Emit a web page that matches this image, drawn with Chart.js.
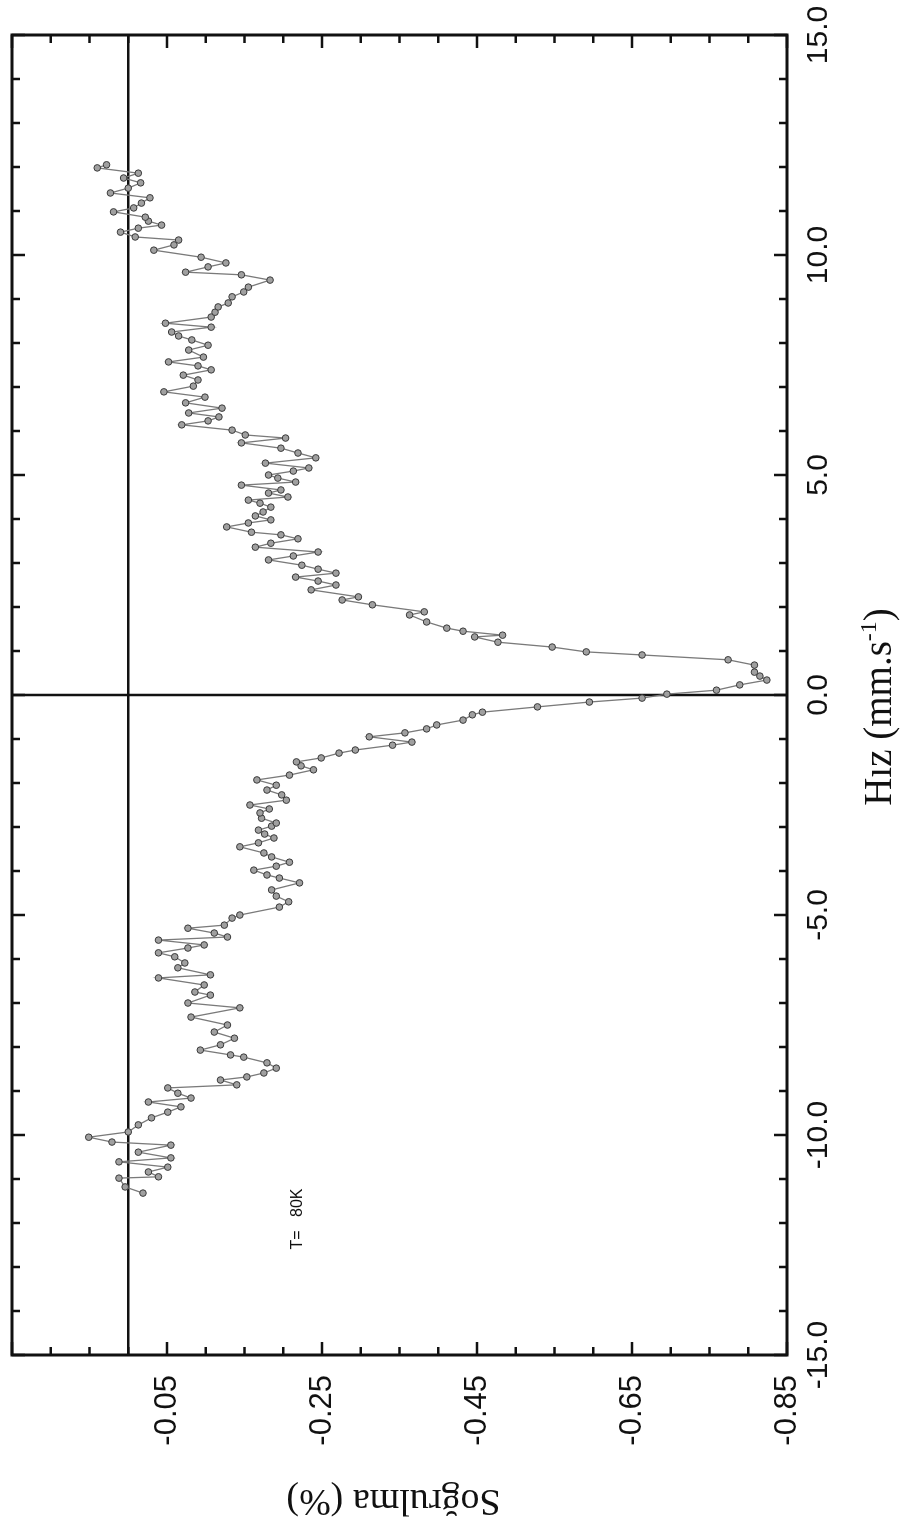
<!DOCTYPE html>
<html>
<head>
<meta charset="utf-8">
<script src="https://cdn.jsdelivr.net/npm/chart.js@4.4.1/dist/chart.umd.min.js"></script>
<style>
  html, body { margin: 0; padding: 0; background: #fff; overflow: hidden; }
  #page { width: 914px; height: 1537px; position: relative; }
  /* chart is drawn landscape and turned a quarter to the left */
  #wrap {
    position: absolute; left: 0; top: 0;
    width: 1537px; height: 914px;
    transform-origin: 0 0;
    transform: translateY(1537px) rotate(-90deg);
  }
</style>
</head>
<body>
<div id="page">
  <div id="wrap"><canvas id="spectrum" width="1537" height="914"></canvas></div>
</div>
<script>
// velocity (mm/s) and absorption (%)
const velocity = [
  -11.32, -11.18, -10.98, -10.95, -10.84, -10.73, -10.61, -10.52, -10.39, -10.23,
  -10.16, -10.05, -9.93, -9.77, -9.61, -9.48, -9.36, -9.25, -9.16, -9.05,
  -8.93, -8.86, -8.75, -8.68, -8.59, -8.48, -8.36, -8.23, -8.18, -8.07,
  -7.95, -7.80, -7.66, -7.50, -7.32, -7.11, -7.00, -6.82, -6.75, -6.59,
  -6.43, -6.36, -6.20, -6.09, -5.95, -5.86, -5.75, -5.68, -5.57, -5.50,
  -5.41, -5.30, -5.23, -5.07, -5.00, -4.82, -4.70, -4.57, -4.43, -4.27,
  -4.16, -4.09, -3.98, -3.89, -3.80, -3.68, -3.59, -3.45, -3.36, -3.25,
  -3.16, -3.07, -2.98, -2.91, -2.80, -2.68, -2.59, -2.50, -2.39, -2.27,
  -2.16, -2.05, -1.93, -1.82, -1.70, -1.61, -1.52, -1.43, -1.32, -1.25,
  -1.14, -1.07, -0.95, -0.86, -0.77, -0.68, -0.57, -0.45, -0.39, -0.27,
  -0.16, -0.07, 0.02, 0.11, 0.23, 0.34, 0.43, 0.52, 0.68, 0.80,
  0.91, 0.98, 1.09, 1.20, 1.32, 1.36, 1.45, 1.52, 1.66, 1.82,
  1.89, 2.05, 2.16, 2.23, 2.39, 2.50, 2.59, 2.68, 2.77, 2.86,
  2.95, 3.07, 3.16, 3.25, 3.36, 3.45, 3.55, 3.64, 3.70, 3.82,
  3.91, 3.98, 4.07, 4.16, 4.27, 4.36, 4.43, 4.50, 4.59, 4.66,
  4.77, 4.84, 4.93, 5.00, 5.09, 5.16, 5.27, 5.39, 5.50, 5.61,
  5.73, 5.84, 5.91, 6.02, 6.14, 6.23, 6.32, 6.41, 6.52, 6.64,
  6.77, 6.89, 7.02, 7.16, 7.27, 7.39, 7.48, 7.57, 7.68, 7.84,
  7.95, 8.07, 8.16, 8.25, 8.36, 8.45, 8.59, 8.70, 8.82, 8.91,
  9.05, 9.16, 9.27, 9.43, 9.55, 9.61, 9.73, 9.82, 9.95, 10.11,
  10.23, 10.34, 10.41, 10.52, 10.61, 10.68, 10.77, 10.86, 10.98, 11.07,
  11.18, 11.30, 11.41, 11.52, 11.64, 11.75, 11.86, 11.98, 12.05
];
const absorption = [
  -0.019, 0.004, 0.012, -0.039, -0.026, -0.051, 0.012, -0.055, -0.013, -0.055,
  0.021, 0.051, 0.000, -0.013, -0.030, -0.051, -0.068, -0.026, -0.081, -0.064,
  -0.051, -0.140, -0.119, -0.153, -0.175, -0.191, -0.179, -0.149, -0.132, -0.093,
  -0.119, -0.137, -0.111, -0.128, -0.081, -0.144, -0.077, -0.106, -0.086, -0.098,
  -0.039, -0.106, -0.064, -0.073, -0.060, -0.039, -0.077, -0.098, -0.039, -0.128,
  -0.111, -0.077, -0.124, -0.134, -0.144, -0.195, -0.207, -0.191, -0.185, -0.221,
  -0.195, -0.179, -0.162, -0.191, -0.208, -0.185, -0.175, -0.144, -0.168, -0.188,
  -0.176, -0.168, -0.185, -0.191, -0.172, -0.170, -0.182, -0.157, -0.204, -0.198,
  -0.179, -0.191, -0.166, -0.208, -0.239, -0.223, -0.217, -0.249, -0.272, -0.293,
  -0.341, -0.366, -0.311, -0.357, -0.385, -0.398, -0.432, -0.444, -0.457, -0.528,
  -0.595, -0.663, -0.695, -0.759, -0.789, -0.824, -0.815, -0.808, -0.808, -0.774,
  -0.663, -0.591, -0.547, -0.477, -0.447, -0.483, -0.432, -0.411, -0.385, -0.363,
  -0.382, -0.315, -0.276, -0.297, -0.236, -0.268, -0.245, -0.216, -0.268, -0.245,
  -0.224, -0.181, -0.213, -0.245, -0.164, -0.184, -0.219, -0.197, -0.159, -0.127,
  -0.155, -0.184, -0.164, -0.174, -0.184, -0.170, -0.155, -0.206, -0.181, -0.197,
  -0.146, -0.216, -0.193, -0.181, -0.213, -0.233, -0.177, -0.242, -0.219, -0.197,
  -0.146, -0.203, -0.151, -0.134, -0.069, -0.103, -0.117, -0.078, -0.121, -0.074,
  -0.099, -0.046, -0.084, -0.090, -0.071, -0.107, -0.090, -0.052, -0.097, -0.078,
  -0.103, -0.082, -0.065, -0.056, -0.107, -0.048, -0.107, -0.112, -0.116, -0.129,
  -0.134, -0.149, -0.155, -0.183, -0.146, -0.074, -0.103, -0.126, -0.094, -0.033,
  -0.059, -0.065, -0.009, 0.010, -0.013, -0.043, -0.026, -0.022, 0.019, -0.007,
  -0.017, -0.028, 0.023, 0.000, -0.016, 0.006, -0.013, 0.040, 0.028
];
const velTickLabels = [-15, -10, -5, 0, 5, 10, 15];
const absTickLabels = [-0.85, -0.65, -0.45, -0.25, -0.05];
const xTitle = 'Hız (mm.s';
const xTitleSup = '-1';
const yTitle = 'Soğrulma (%)';
const note = 'T=   80K';

const points = velocity.map((v, i) => ({ x: v, y: absorption[i] }));

// frame, inward ticks, zero lines and the titles
const decor = {
    id: 'decor',
    beforeDatasetsDraw(chart) {
        const { ctx, chartArea: a, scales: { x, y } } = chart;
        ctx.save();
        ctx.strokeStyle = '#111';
        ctx.lineWidth = 2.5;
        ctx.beginPath();
        const x0 = x.getPixelForValue(0);
        ctx.moveTo(x0, a.top); ctx.lineTo(x0, a.bottom);
        const y0 = y.getPixelForValue(0);
        ctx.moveTo(a.left, y0); ctx.lineTo(a.right, y0);
        ctx.stroke();
        ctx.restore();
    },
    afterDatasetsDraw(chart) {
        const { ctx, chartArea: a, scales: { x, y } } = chart;
        ctx.save();
        ctx.strokeStyle = '#111';
        ctx.lineWidth = 3;
        ctx.strokeRect(a.left, a.top, a.right - a.left, a.bottom - a.top);

        ctx.lineWidth = 2.5;
        ctx.beginPath();
        for (let v = -15; v <= 15; v++) {
            const px = x.getPixelForValue(v);
            const len = v % 5 === 0 ? 13 : 8;
            ctx.moveTo(px, a.bottom); ctx.lineTo(px, a.bottom - len);
            ctx.moveTo(px, a.top); ctx.lineTo(px, a.top + len);
        }
        for (let k = 0; k <= 20; k++) {
            const val = -0.85 + k * 0.05;
            const py = y.getPixelForValue(val);
            const len = k % 4 === 0 ? 13 : 8;
            ctx.moveTo(a.left, py); ctx.lineTo(a.left + len, py);
            ctx.moveTo(a.right, py); ctx.lineTo(a.right - len, py);
        }
        ctx.stroke();

        ctx.fillStyle = '#111';
        ctx.textBaseline = 'alphabetic';

        // velocity axis title with superscript
        ctx.font = '39px "Liberation Serif"';
        const wMain = ctx.measureText(xTitle).width;
        const wClose = ctx.measureText(')').width;
        ctx.font = '24px "Liberation Serif"';
        const wSup = ctx.measureText(xTitleSup).width;
        const cx = (a.left + a.right) / 2 - 12;
        let tx = cx - (wMain + wSup + wClose) / 2;
        const base = 891;
        ctx.font = '39px "Liberation Serif"';
        ctx.textAlign = 'left';
        ctx.fillText(xTitle, tx, base);
        tx += wMain;
        ctx.font = '24px "Liberation Serif"';
        ctx.fillText(xTitleSup, tx, base - 15);
        tx += wSup;
        ctx.font = '39px "Liberation Serif"';
        ctx.fillText(')', tx, base);

        // absorption axis title
        ctx.save();
        ctx.translate(47, (a.top + a.bottom) / 2 - 6);
        ctx.rotate(-Math.PI / 2);
        ctx.textAlign = 'center';
        ctx.font = '38px "Liberation Serif"';
        ctx.fillText(yTitle, 0, 0);
        ctx.restore();

        // temperature note
        ctx.font = '16px "Liberation Sans"';
        ctx.textAlign = 'left';
        ctx.fillText(note, x.getPixelForValue(-12.6), y.getPixelForValue(-0.224));
        ctx.restore();
    }
};

new Chart(document.getElementById('spectrum'), {
    type: 'scatter',
    data: {
        datasets: [{
            data: points,
            showLine: true,
            borderColor: '#7a7a7a',
            borderWidth: 1.3,
            pointRadius: 3.3,
            pointBorderWidth: 1,
            pointBackgroundColor: '#a0a0a0',
            pointBorderColor: '#3a3a3a'
        }]
    },
    options: {
        responsive: false,
        devicePixelRatio: 1,
        animation: false,
        layout: { padding: { left: 0, right: 35, top: 12, bottom: 0 } },
        plugins: { legend: { display: false }, tooltip: { enabled: false } },
        scales: {
            x: {
                type: 'linear',
                min: -15,
                max: 15,
                afterBuildTicks: (s) => { s.ticks = velTickLabels.map(v => ({ value: v })); },
                afterFit: (s) => { s.height = 127; s.paddingLeft = 0; s.paddingRight = 0; },
                grid: { display: false, drawTicks: false },
                border: { display: false },
                ticks: {
                    autoSkip: false,
                    maxRotation: 0,
                    padding: 14,
                    color: '#111',
                    font: { family: '"Liberation Sans"', size: 30 },
                    callback: (v) => Number(v).toFixed(1)
                }
            },
            y: {
                type: 'linear',
                min: -0.85,
                max: 0.15,
                afterBuildTicks: (s) => { s.ticks = absTickLabels.map(v => ({ value: v })); },
                afterFit: (s) => { s.width = 182; s.paddingTop = 0; s.paddingBottom = 0; },
                grid: { display: false, drawTicks: false },
                border: { display: false },
                ticks: {
                    autoSkip: false,
                    padding: 20,
                    color: '#111',
                    font: { family: '"Liberation Sans"', size: 31 },
                    callback: (v) => Number(v).toFixed(2)
                }
            }
        }
    },
    plugins: [decor]
});
</script>
</body>
</html>
